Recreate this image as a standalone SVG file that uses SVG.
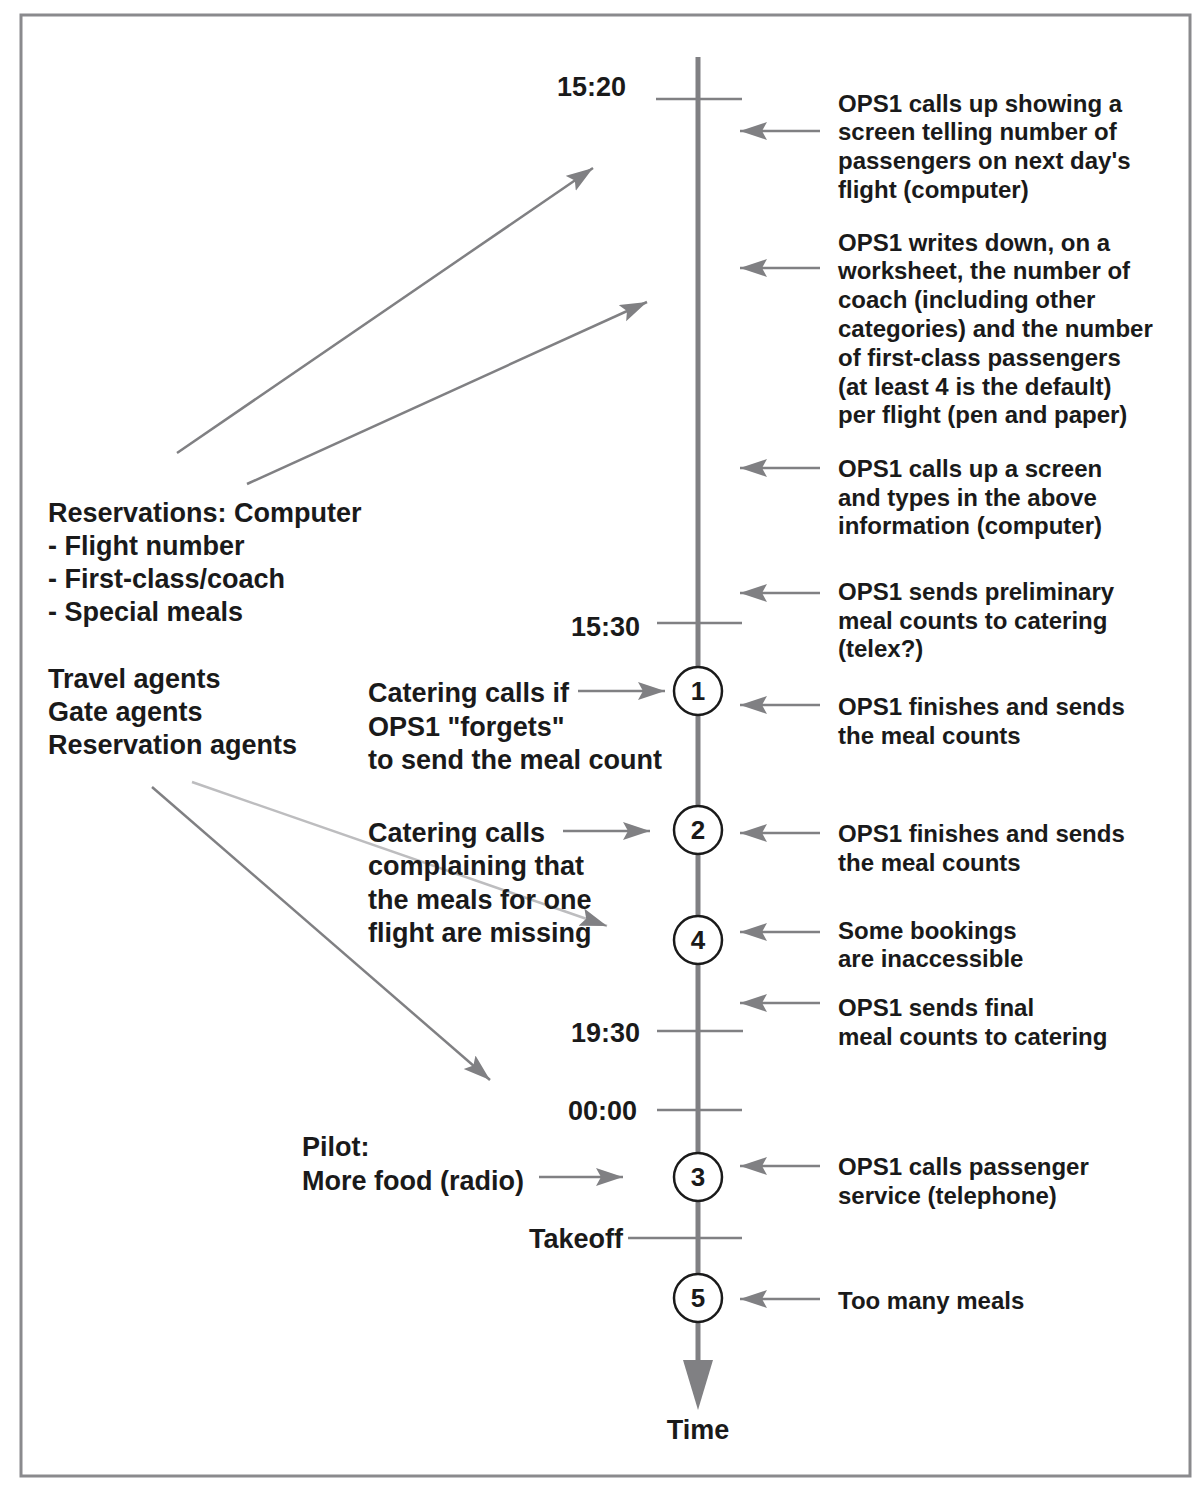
<svg xmlns="http://www.w3.org/2000/svg" width="1202" height="1488" viewBox="0 0 1202 1488">
<style>
text{font-family:"Liberation Sans",Arial,Helvetica,sans-serif;font-weight:bold;fill:#1a1a1a}
.r{font-size:24px}
.l{font-size:27px}
.m{font-size:27px}
.t{font-size:27px}
.ln{stroke:#808083;stroke-width:2.5;fill:none}
.tick{stroke:#808083;stroke-width:2.5}
.c{fill:#fff;stroke:#1a1a1a;stroke-width:2.5}
.n{font-size:26px;text-anchor:middle}
</style>
<defs>
<marker id="ah" markerUnits="userSpaceOnUse" markerWidth="30" markerHeight="20" refX="27" refY="9" orient="auto">
<path d="M0,0 L27,9 L0,18 L5,9 Z" fill="#808083"/>
</marker>
</defs>
<rect x="21" y="15" width="1169" height="1461" fill="none" stroke="#8a8a8d" stroke-width="3"/>
<g id="timeline">
<line x1="698" y1="57" x2="698" y2="1365" stroke="#808083" stroke-width="5"/>
<path d="M683,1360 L713,1360 L698,1410 Z" fill="#808083"/>
<text class="t" x="698" y="1439" text-anchor="middle">Time</text>
</g>
<g id="ticks">
<line class="tick" x1="656" y1="99" x2="742" y2="99"/>
<line class="tick" x1="657" y1="623" x2="742" y2="623"/>
<line class="tick" x1="657" y1="1031" x2="743" y2="1031"/>
<line class="tick" x1="657" y1="1110" x2="742" y2="1110"/>
<line class="tick" x1="628" y1="1238" x2="742" y2="1238"/>
<text class="t" x="626" y="96" text-anchor="end">15:20</text>
<text class="t" x="640" y="636" text-anchor="end">15:30</text>
<text class="t" x="640" y="1042" text-anchor="end">19:30</text>
<text class="t" x="637" y="1120" text-anchor="end">00:00</text>
<text class="t" x="623" y="1248" text-anchor="end">Takeoff</text>
</g>
<g id="connectors">
<line class="ln" marker-end="url(#ah)" x1="820" y1="131" x2="740" y2="131"/>
<line class="ln" marker-end="url(#ah)" x1="820" y1="268" x2="740" y2="268"/>
<line class="ln" marker-end="url(#ah)" x1="820" y1="468" x2="740" y2="468"/>
<line class="ln" marker-end="url(#ah)" x1="820" y1="593" x2="740" y2="593"/>
<line class="ln" marker-end="url(#ah)" x1="820" y1="705" x2="740" y2="705"/>
<line class="ln" marker-end="url(#ah)" x1="820" y1="833" x2="740" y2="833"/>
<line class="ln" marker-end="url(#ah)" x1="820" y1="932" x2="740" y2="932"/>
<line class="ln" marker-end="url(#ah)" x1="820" y1="1003" x2="740" y2="1003"/>
<line class="ln" marker-end="url(#ah)" x1="820" y1="1166" x2="740" y2="1166"/>
<line class="ln" marker-end="url(#ah)" x1="820" y1="1299" x2="740" y2="1299"/>
<line class="ln" marker-end="url(#ah)" x1="578" y1="691" x2="665" y2="691"/>
<line class="ln" marker-end="url(#ah)" x1="563" y1="831" x2="650" y2="831"/>
<line class="ln" marker-end="url(#ah)" x1="539" y1="1177" x2="623" y2="1177"/>
<line class="ln" marker-end="url(#ah)" x1="177" y1="453" x2="593" y2="168"/>
<line class="ln" marker-end="url(#ah)" x1="247" y1="484" x2="647" y2="302"/>
<line class="ln" marker-end="url(#ah)" x1="152" y1="787" x2="490" y2="1080"/>
<line class="ln" marker-end="url(#ah)" x1="192" y1="782" x2="607" y2="926" style="stroke:#bdbdbf"/>
</g>
<g id="n1"><circle class="c" cx="698" cy="691" r="24"/><text class="n" x="698" y="700">1</text></g>
<g id="n2"><circle class="c" cx="698" cy="830" r="24"/><text class="n" x="698" y="839">2</text></g>
<g id="n4"><circle class="c" cx="698" cy="940" r="24"/><text class="n" x="698" y="949">4</text></g>
<g id="n3"><circle class="c" cx="698" cy="1177" r="24"/><text class="n" x="698" y="1186">3</text></g>
<g id="n5"><circle class="c" cx="698" cy="1298" r="24"/><text class="n" x="698" y="1307">5</text></g>
<g id="right-notes">
<text class="r" x="838" y="112">OPS1 calls up showing a</text>
<text class="r" x="838" y="140">screen telling number of</text>
<text class="r" x="838" y="169">passengers on next day's</text>
<text class="r" x="838" y="198">flight (computer)</text>
<text class="r" x="838" y="251">OPS1 writes down, on a</text>
<text class="r" x="838" y="279">worksheet, the number of</text>
<text class="r" x="838" y="308">coach (including other</text>
<text class="r" x="838" y="337">categories) and the number</text>
<text class="r" x="838" y="366">of first-class passengers</text>
<text class="r" x="838" y="395">(at least 4 is the default)</text>
<text class="r" x="838" y="423">per flight (pen and paper)</text>
<text class="r" x="838" y="477">OPS1 calls up a screen</text>
<text class="r" x="838" y="506">and types in the above</text>
<text class="r" x="838" y="534">information (computer)</text>
<text class="r" x="838" y="600">OPS1 sends preliminary</text>
<text class="r" x="838" y="629">meal counts to catering</text>
<text class="r" x="838" y="657">(telex?)</text>
<text class="r" x="838" y="715">OPS1 finishes and sends</text>
<text class="r" x="838" y="744">the meal counts</text>
<text class="r" x="838" y="842">OPS1 finishes and sends</text>
<text class="r" x="838" y="871">the meal counts</text>
<text class="r" x="838" y="939">Some bookings</text>
<text class="r" x="838" y="967">are inaccessible</text>
<text class="r" x="838" y="1016">OPS1 sends final</text>
<text class="r" x="838" y="1045">meal counts to catering</text>
<text class="r" x="838" y="1175">OPS1 calls passenger</text>
<text class="r" x="838" y="1204">service (telephone)</text>
<text class="r" x="838" y="1309">Too many meals</text>
</g>
<g id="left-notes">
<text class="l" x="48" y="522">Reservations: Computer</text>
<text class="l" x="48" y="555">- Flight number</text>
<text class="l" x="48" y="588">- First-class/coach</text>
<text class="l" x="48" y="621">- Special meals</text>
<text class="l" x="48" y="688">Travel agents</text>
<text class="l" x="48" y="721">Gate agents</text>
<text class="l" x="48" y="754">Reservation agents</text>
</g>
<g id="middle-notes">
<text class="m" x="368" y="702">Catering calls if</text>
<text class="m" x="368" y="736">OPS1 "forgets"</text>
<text class="m" x="368" y="769">to send the meal count</text>
<text class="m" x="368" y="842">Catering calls</text>
<text class="m" x="368" y="875">complaining that</text>
<text class="m" x="368" y="909">the meals for one</text>
<text class="m" x="368" y="942">flight are missing</text>
<text class="m" x="302" y="1156">Pilot:</text>
<text class="m" x="302" y="1190">More food (radio)</text>
</g>
</svg>
